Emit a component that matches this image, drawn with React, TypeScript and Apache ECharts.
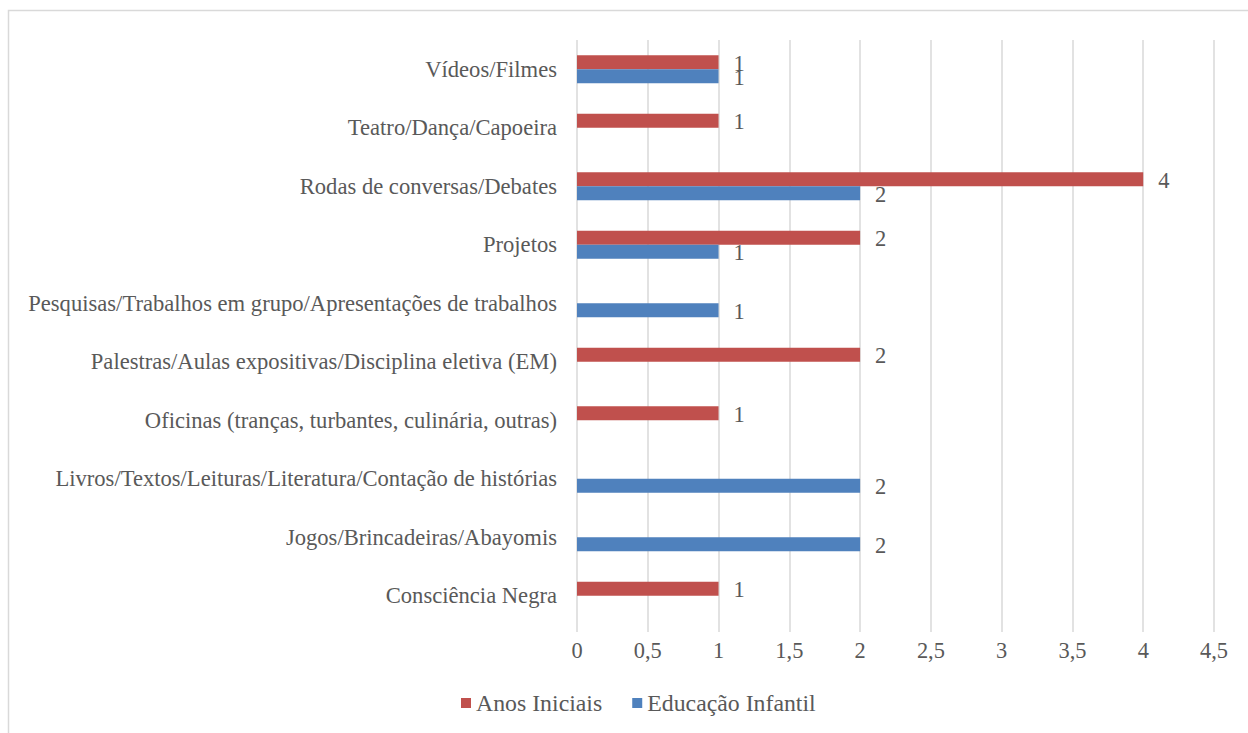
import React, { useEffect, useRef } from "react";
import * as echarts from "echarts";

const categories = [
  "Consciência Negra",
  "Jogos/Brincadeiras/Abayomis",
  "Livros/Textos/Leituras/Literatura/Contação de histórias",
  "Oficinas (tranças, turbantes, culinária, outras)",
  "Palestras/Aulas expositivas/Disciplina eletiva (EM)",
  "Pesquisas/Trabalhos em grupo/Apresentações de trabalhos",
  "Projetos",
  "Rodas de conversas/Debates",
  "Teatro/Dança/Capoeira",
  "Vídeos/Filmes",
];
const anosIniciais = [1, null, null, 1, 2, null, 2, 4, 1, 1];
const educacaoInfantil = [null, 2, 2, null, null, 1, 1, 2, null, 1];
const seriesNames = ["Anos Iniciais", "Educação Infantil"];
const colors = ["#C0504D", "#4F81BD"];

const FONT = "Liberation Serif, serif";
const TEXT = "#595959";
const GRID = "#D9D9D9";

export default function App() {
  const ref = useRef<HTMLDivElement>(null);
  useEffect(() => {
    if (!ref.current) return;
    const chart = echarts.init(ref.current, null, { renderer: "svg" });
    const label = {
      show: true,
      position: "right",
      distance: 15,
      offset: [0, 1],
      color: TEXT,
      fontFamily: FONT,
      fontSize: 22.5,
    };
    chart.setOption({
      animation: false,
      textStyle: { fontFamily: FONT },
      graphic: [
        {
          type: "rect",
          shape: { x: 8.5, y: 10.5, width: 1300, height: 800 },
          style: { fill: "none", stroke: GRID, lineWidth: 1.5 },
          silent: true,
        },
      ],
      grid: { left: 577, right: 34, top: 40, bottom: 108, containLabel: false },
      legend: {
        left: 456,
        top: 686,
        itemWidth: 10,
        itemHeight: 10,
        itemGap: 30,
        icon: "rect",
        textStyle: { color: TEXT, fontFamily: FONT, fontSize: 23.8 },
        data: seriesNames,
      },
      xAxis: {
        type: "value",
        min: 0,
        max: 4.5,
        interval: 0.5,
        axisLine: { show: false },
        axisTick: { show: true, length: 7, lineStyle: { color: GRID, width: 1.5 } },
        splitLine: { show: true, lineStyle: { color: GRID, width: 1.5 } },
        axisLabel: {
          color: TEXT,
          fontFamily: FONT,
          fontSize: 22.4,
          margin: 14,
          formatter: (v: number) => String(v).replace(".", ","),
        },
      },
      yAxis: {
        type: "category",
        data: categories,
        axisLine: { show: false },
        axisTick: { show: false },
        axisLabel: { color: TEXT, fontFamily: FONT, fontSize: 22.6, margin: 20 },
      },
      series: [
        {
          name: seriesNames[0],
          type: "bar",
          data: anosIniciais,
          barWidth: 14,
          barGap: "0%",
          itemStyle: { color: colors[0] },
          label,
        },
        {
          name: seriesNames[1],
          type: "bar",
          data: educacaoInfantil,
          barWidth: 14,
          barGap: "0%",
          itemStyle: { color: colors[1] },
          label,
        },
      ],
    });
    return () => chart.dispose();
  }, []);
  return (
    <div
      ref={ref}
      style={{ position: "fixed", left: 0, top: 0, width: 1248, height: 733, background: "#fff" }}
    />
  );
}
